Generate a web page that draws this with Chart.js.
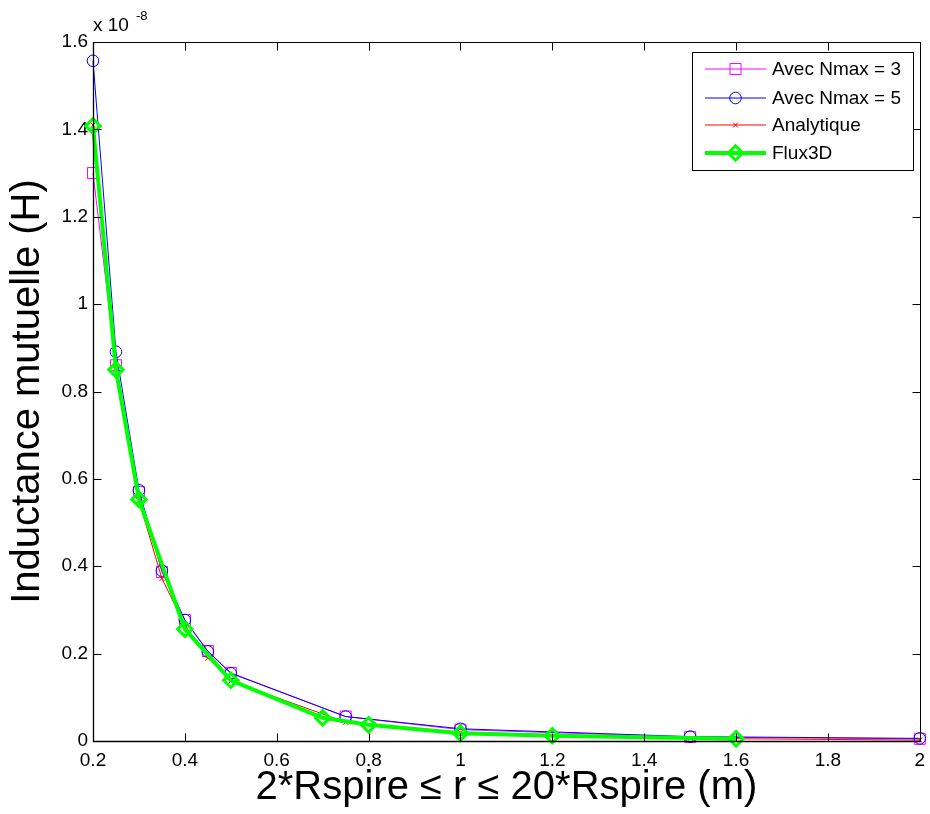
<!DOCTYPE html>
<html>
<head>
<meta charset="utf-8">
<script src="https://cdn.jsdelivr.net/npm/chart.js@4"></script>
<style>
html,body{margin:0;padding:0;background:#fff;}
#wrap{width:930px;height:814px;}
</style>
</head>
<body>
<div id="wrap"><canvas id="c" width="930" height="814"></canvas></div>
<script>
// ---- data (values in units of 1e-8 H) ----
const xNmax = [0.2, 0.25, 0.3, 0.35, 0.4, 0.45, 0.5, 0.75, 1, 1.5, 2];
const nmax3 = [1.30, 0.86, 0.57, 0.387, 0.277, 0.206, 0.156, 0.056, 0.026, 0.009, 0.005];
const nmax5 = [1.557, 0.891, 0.574, 0.39, 0.277, 0.205, 0.155, 0.056, 0.028, 0.010, 0.006];
const analytique = [1.41, 0.85, 0.55, 0.372, 0.265, 0.19, 0.137, 0.043, 0.02, 0.006, 0.002];
const xFlux = [0.2, 0.25, 0.3, 0.4, 0.5, 0.7, 0.8, 1, 1.2, 1.6];
const flux3d = [1.408, 0.85, 0.553, 0.256, 0.139, 0.053, 0.037, 0.018, 0.012, 0.005];
const xTicks = [0.2, 0.4, 0.6, 0.8, 1, 1.2, 1.4, 1.6, 1.8, 2];
const yTicks = [0, 0.2, 0.4, 0.6, 0.8, 1, 1.2, 1.4, 1.6];
const seriesNames = ['Avec Nmax = 3', 'Avec Nmax = 5', 'Analytique', 'Flux3D'];

const pts = (xs, ys) => xs.map((x, i) => ({x: x, y: ys[i]}));
const FONT = '"Liberation Sans", Arial, Helvetica, sans-serif';

const datasets = [
  {label: seriesNames[0], data: pts(xNmax, nmax3), borderColor: '#ff00ff', backgroundColor: 'transparent',
   borderWidth: 1, pointStyle: 'rect', pointRadius: 7.8, pointBorderWidth: 1, pointBorderColor: '#ff00ff', order: 4, clip: false},
  {label: seriesNames[1], data: pts(xNmax, nmax5), borderColor: '#0000ff', backgroundColor: 'transparent',
   borderWidth: 1, pointStyle: 'circle', pointRadius: 5.8, pointBorderWidth: 1, pointBorderColor: '#0000ff', order: 3, clip: false},
  {label: seriesNames[2], data: pts(xNmax, analytique), borderColor: '#ff0000', backgroundColor: 'transparent',
   borderWidth: 1, pointStyle: 'crossRot', pointRadius: 3.5, pointBorderWidth: 1, pointBorderColor: '#ff0000', order: 2, clip: false},
  {label: seriesNames[3], data: pts(xFlux, flux3d), borderColor: '#00ff00', backgroundColor: 'transparent',
   borderWidth: 4, pointStyle: 'rectRot', pointRadius: 7.2, pointBorderWidth: 3, pointBorderColor: '#00ff00', order: 1, clip: false}
];

function drawMarker(ctx, style, x, y, r, color, lw) {
  ctx.save();
  ctx.strokeStyle = color; ctx.lineWidth = lw;
  ctx.beginPath();
  if (style === 'rect') {
    const s = Math.SQRT1_2 * r; ctx.rect(x - s, y - s, 2 * s, 2 * s);
  } else if (style === 'circle') {
    ctx.arc(x, y, r, 0, Math.PI * 2);
  } else if (style === 'crossRot') {
    const s = Math.SQRT1_2 * r;
    ctx.moveTo(x - s, y - s); ctx.lineTo(x + s, y + s);
    ctx.moveTo(x - s, y + s); ctx.lineTo(x + s, y - s);
  } else if (style === 'rectRot') {
    ctx.moveTo(x, y - r); ctx.lineTo(x + r, y); ctx.lineTo(x, y + r); ctx.lineTo(x - r, y); ctx.closePath();
  }
  ctx.stroke();
  ctx.restore();
}

const framePlugin = {
  id: 'frame',
  afterDraw(chart) {
    const ctx = chart.ctx, a = chart.chartArea;
    const xs = chart.scales.x, ys = chart.scales.y;
    ctx.save();
    ctx.strokeStyle = '#000'; ctx.lineWidth = 1;
    const L = Math.round(a.left) + 0.5, R = Math.round(a.right) + 0.5, T = Math.round(a.top) + 0.5, B = Math.round(a.bottom) + 0.5;
    ctx.beginPath();
    ctx.rect(L, T, R - L, B - T);
    const tl = 8;
    xTicks.forEach(v => {
      const px = Math.round(xs.getPixelForValue(v)) + 0.5;
      ctx.moveTo(px, B); ctx.lineTo(px, B - tl);
      ctx.moveTo(px, T); ctx.lineTo(px, T + tl);
    });
    yTicks.forEach(v => {
      const py = Math.round(ys.getPixelForValue(v)) + 0.5;
      ctx.moveTo(L, py); ctx.lineTo(L + tl, py);
      ctx.moveTo(R, py); ctx.lineTo(R - tl, py);
    });
    ctx.stroke();
    ctx.lineWidth = 1.3;
    ctx.beginPath(); ctx.moveTo(L, T); ctx.lineTo(L, B); ctx.lineTo(R, B); ctx.stroke();

    // exponent label
    ctx.fillStyle = '#000';
    ctx.textBaseline = 'alphabetic'; ctx.textAlign = 'left';
    ctx.font = '19px ' + FONT;
    ctx.fillText('x 10', 93, 31);
    ctx.font = '13px ' + FONT;
    ctx.fillText('-8', 136, 20);

    // legend
    const bx = 692.5, by = 52.5, bw = 221, bh = 118;
    ctx.fillStyle = '#fff';
    ctx.fillRect(bx, by, bw, bh);
    ctx.strokeStyle = '#000'; ctx.lineWidth = 1;
    ctx.strokeRect(bx, by, bw, bh);
    const rowsY = [69, 98, 125, 153];
    chart.data.datasets.forEach((ds, i) => {
      const y = rowsY[i];
      ctx.save();
      ctx.strokeStyle = ds.borderColor; ctx.lineWidth = ds.borderWidth;
      ctx.beginPath(); ctx.moveTo(705, y); ctx.lineTo(766, y); ctx.stroke();
      ctx.restore();
      drawMarker(ctx, ds.pointStyle, 735.5, y, ds.pointRadius, ds.pointBorderColor, ds.pointBorderWidth);
      ctx.fillStyle = '#000';
      ctx.font = '19px ' + FONT;
      ctx.textBaseline = 'middle'; ctx.textAlign = 'left';
      ctx.fillText(ds.label, 772, y + 1);
    });
    ctx.restore();
  }
};

new Chart(document.getElementById('c'), {
  type: 'line',
  data: {datasets: datasets},
  plugins: [framePlugin],
  options: {
    responsive: false,
    animation: false,
    devicePixelRatio: 1,
    layout: {padding: {left: 0, right: 8, top: 42, bottom: 0}},
    plugins: {legend: {display: false}, tooltip: {enabled: false}},
    elements: {line: {tension: 0}},
    scales: {
      x: {
        type: 'linear', min: 0.2, max: 2,
        afterBuildTicks: s => { s.ticks = xTicks.map(v => ({value: v})); },
        afterFit: s => { s.height = 73; s.paddingLeft = 0; s.paddingRight = 0; },
        grid: {display: false, drawTicks: false},
        border: {display: false},
        ticks: {
          color: '#000', padding: 8, maxRotation: 0, autoSkip: false,
          font: {family: FONT, size: 19},
          callback: v => String(Math.round(v * 10) / 10)
        },
        title: {display: true, text: '2*Rspire \u2264 r \u2264 20*Rspire (m)', color: '#000',
          font: {family: FONT, size: 40}, padding: {top: 0, bottom: 2}}
      },
      y: {
        type: 'linear', min: 0, max: 1.6,
        afterBuildTicks: s => { s.ticks = yTicks.map(v => ({value: v})); },
        afterFit: s => { s.width = 93; s.paddingTop = 0; s.paddingBottom = 0; },
        grid: {display: false, drawTicks: false},
        border: {display: false},
        ticks: {
          color: '#000', padding: 5, autoSkip: false,
          font: {family: FONT, size: 19},
          callback: v => String(Math.round(v * 10) / 10)
        },
        title: {display: true, text: 'Inductance mutuelle (H)', color: '#000',
          font: {family: FONT, size: 40}, padding: {top: 4, bottom: 0}}
      }
    }
  }
});
</script>
</body>
</html>
